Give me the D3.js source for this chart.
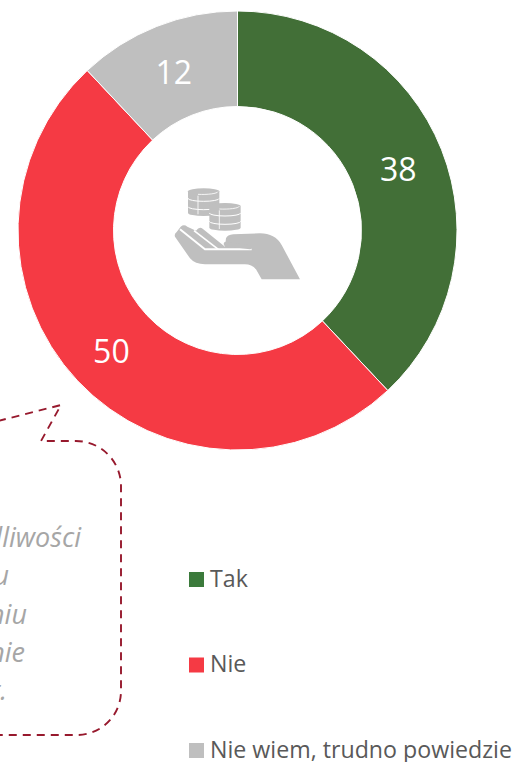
<!DOCTYPE html>
<html>
<head>
<meta charset="utf-8">
<script src="https://cdn.jsdelivr.net/npm/d3@7"></script>
<style>
html, body { margin: 0; padding: 0; background: #fff; overflow: hidden; }
svg { display: block; }
text { font-family: "Open Sans", "Noto Sans", sans-serif; }
</style>
</head>
<body>
<svg id="chart" width="515" height="762"></svg>
<script>
var categories = ["Tak", "Nie", "Nie wiem, trudno powiedzie"];
var values = [38, 50, 12];
var colors = ["#426f37", "#f53a44", "#bfbfbf"];
var legendColors = ["#3b7a3b", "#f53a44", "#bfbfbf"];
var noteFragments = ["dliwości", "u", "niu", "nie", "t."];

var svg = d3.select("#chart");
var cx = 237.5, cy = 230.5;

var pie = d3.pie().sort(null).value(function (d) { return d; });
var arc = d3.arc().innerRadius(124).outerRadius(219.5);
var labelArc = d3.arc().innerRadius(173).outerRadius(173);

var donut = svg.append("g").attr("transform", "translate(" + cx + "," + cy + ")");

var slices = donut.selectAll(".arc")
    .data(pie(values))
    .enter().append("g")
    .attr("class", "arc");

slices.append("path")
    .attr("d", arc)
    .attr("fill", function (d, i) { return colors[i]; })
    .attr("stroke", "#fff")
    .attr("stroke-width", 1);

slices.append("text")
    .attr("transform", function (d) { return "translate(" + labelArc.centroid(d) + ")"; })
    .attr("text-anchor", "middle")
    .attr("dy", ".44em")
    .attr("fill", "#fff")
    .attr("font-size", 32)
    .text(function (d) { return d.data; });

// icon: coins over a hand, drawn in the 3x crop's coordinates
var icon = svg.append("g")
    .attr("transform", "translate(150,170) scale(0.3333)")
    .attr("fill", "#bfbfbf");

icon.append("path").attr("d", "M75 200 Q72 192 80 186 L92 170 Q102 162 112 170 L138 182 Q148 168 158 176 L225 230 L228 205 Q232 195 250 193 L330 190 Q375 190 395 225 L450 328 L335 328 L318 298 Q305 283 285 283 L165 283 Q135 283 120 265 Z");

icon.append("path")
    .attr("d", "M90 178 L165 238 L305 238")
    .attr("fill", "none").attr("stroke", "#fff").attr("stroke-width", 6);
icon.append("path")
    .attr("d", "M132 182 L205 238")
    .attr("fill", "none").attr("stroke", "#fff").attr("stroke-width", 5);
icon.append("path")
    .attr("d", "M228 222 L300 231")
    .attr("fill", "none").attr("stroke", "#bfbfbf").attr("stroke-width", 14).attr("stroke-linecap", "round");

function coins(x, y) {
    icon.append("path").attr("d", "M" + x + " " + (y + 9) + " a47 9 0 0 1 94 0 v65 a47 9 0 0 1 -94 0 Z");
    [30, 55].forEach(function (dy) {
        icon.append("path")
            .attr("d", "M" + x + " " + (y + dy) + " a47 9 0 0 0 94 0")
            .attr("fill", "none").attr("stroke", "#fff").attr("stroke-width", 3);
    });
    icon.append("path")
        .attr("d", "M" + (x + 30) + " " + (y + 22) + " L" + (x + 30) + " " + (y + 78))
        .attr("stroke", "#fff").attr("stroke-width", 2.5);
    icon.append("path")
        .attr("d", "M" + (x + 30) + " " + (y + 18) + " a47 9 0 0 0 60 -8")
        .attr("fill", "none").attr("stroke", "#fff").attr("stroke-width", 2.5);
}
coins(114, 55);
coins(178, 99);

// callout, runs off the left edge
svg.append("path")
    .attr("d", "M-2 421 L61 405 L41 441 L76 441 A45 45 0 0 1 121 486 L121 691 A44 44 0 0 1 77 735 L-2 735")
    .attr("fill", "none")
    .attr("stroke", "#97192d")
    .attr("stroke-width", 1.9)
    .attr("stroke-dasharray", "8 6");

var noteEnds = [81, 9, 27, 25, 7];
var noteBase = [547, 585, 624, 662, 700];
svg.selectAll(".note")
    .data(noteFragments)
    .enter().append("text")
    .attr("class", "note")
    .attr("x", function (d, i) { return noteEnds[i]; })
    .attr("y", function (d, i) { return noteBase[i]; })
    .attr("text-anchor", "end")
    .attr("font-style", "italic")
    .attr("font-size", 27)
    .attr("fill", "#a6a6a6")
    .text(function (d) { return d; });

// legend
var legendY = d3.scalePoint().domain(categories).range([579.5, 750.5]);
var legend = svg.selectAll(".legend")
    .data(categories)
    .enter().append("g")
    .attr("class", "legend")
    .attr("transform", function (d) { return "translate(189," + legendY(d) + ")"; });

legend.append("rect")
    .attr("y", -7.5)
    .attr("width", 15)
    .attr("height", 15)
    .attr("fill", function (d, i) { return legendColors[i]; });

legend.append("text")
    .attr("x", 21)
    .attr("y", 7)
    .attr("font-size", 23.2)
    .attr("fill", "#595959")
    .text(function (d) { return d; });
</script>
</body>
</html>
